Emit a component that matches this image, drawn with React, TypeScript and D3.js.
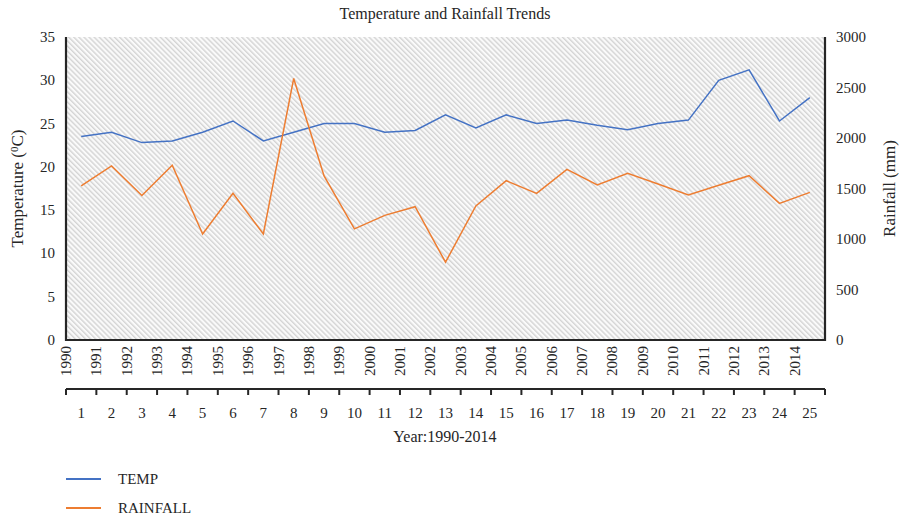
import React from "react";
import * as d3 from "d3";

// data
const periods = d3.range(1, 26).map(String);
const years = d3.range(1990, 2015).map(String);
const temp = [23.5, 24.0, 22.8, 23.0, 24.0, 25.3, 23.0, 24.0, 25.0, 25.0, 24.0, 24.2, 26.0, 24.5, 26.0, 25.0, 25.4, 24.8, 24.3, 25.0, 25.4, 30.0, 31.2, 25.3, 28.0];
const rainfall = [1525, 1723, 1430, 1730, 1050, 1452, 1050, 2590, 1624, 1100, 1234, 1320, 770, 1327, 1577, 1452, 1690, 1535, 1650, 1545, 1436, 1532, 1627, 1353, 1462];
const tempTicks = [0, 5, 10, 15, 20, 25, 30, 35];
const rainTicks = [0, 500, 1000, 1500, 2000, 2500, 3000];

const W = 899;
const H = 517;
const left = 66;
const right = 825;
const top = 37;
const bottom = 340;
const font = "'Liberation Serif', 'DejaVu Serif', serif";
const ink = "#262626";

export default function App() {
  const x = d3.scaleBand().domain(periods).range([left, right]);
  const yT = d3.scaleLinear().domain([0, 35]).range([bottom, top]);
  const yR = d3.scaleLinear().domain([0, 3000]).range([bottom, top]);

  const tempLine = d3.line<number>().x((d, i) => x(periods[i])! + x.bandwidth() / 2).y(d => yT(d));
  const rainLine = d3.line<number>().x((d, i) => x(periods[i])! + x.bandwidth() / 2).y(d => yR(d));

  const bounds = d3.range(0, 26).map(i => left + i * x.bandwidth());
  const outerY = 389;

  return (
    <svg width={W} height={H} style={{ position: "absolute", left: 0, top: 0, fontFamily: font }}>
      <defs>
        <pattern id="hatch" width="3.6" height="3.6" patternUnits="userSpaceOnUse" patternTransform="rotate(-45)">
          <rect width="3.6" height="3.6" fill="#fafafa" />
          <rect width="1.4" height="3.6" fill="#d4d4d4" />
        </pattern>
      </defs>

      <text x={445} y={19} textAnchor="middle" fontSize={16} fill={ink}>Temperature and Rainfall Trends</text>

      <rect x={left} y={top} width={right - left} height={bottom - top} fill="url(#hatch)" />

      {/* series */}
      <path d={tempLine(temp)!} fill="none" stroke="#4472C4" strokeWidth={1.5} />
      <path d={rainLine(rainfall)!} fill="none" stroke="#ED7D31" strokeWidth={1.5} />

      {/* frame */}
      <line x1={left} x2={left} y1={top} y2={bottom + 1} stroke={ink} strokeWidth={2.2} />
      <line x1={right} x2={right} y1={top} y2={bottom + 1} stroke={ink} strokeWidth={2.2} />
      <line x1={left - 1} x2={right + 1} y1={bottom} y2={bottom} stroke={ink} strokeWidth={2.2} />

      {/* left axis */}
      {tempTicks.map(t => (
        <text key={"t" + t} x={55} y={yT(t) + 5} textAnchor="end" fontSize={15} fill={ink}>{t}</text>
      ))}
      <text transform={`translate(23,${(top + bottom) / 2}) rotate(-90)`} textAnchor="middle" fontSize={17} fill={ink}>
        Temperature (<tspan dy={-5} fontSize={11}>0</tspan><tspan dy={5}>C)</tspan>
      </text>

      {/* right axis */}
      {rainTicks.map(t => (
        <text key={"r" + t} x={836} y={yR(t) + 5} textAnchor="start" fontSize={15} fill={ink}>{t}</text>
      ))}
      <text transform={`translate(895,${(top + bottom) / 2}) rotate(-90)`} textAnchor="middle" fontSize={17} fill={ink}>Rainfall (mm)</text>

      {/* year labels */}
      {years.map((yr, i) => (
        <text key={yr} transform={`translate(${bounds[i] + 5},${bottom + 6}) rotate(-90)`} textAnchor="end" fontSize={15} fill={ink}>{yr}</text>
      ))}

      {/* outer category axis */}
      <line x1={left} x2={right} y1={outerY} y2={outerY} stroke={ink} strokeWidth={2} />
      {bounds.map((b, i) => (
        <line key={"b" + i} x1={b} x2={b} y1={outerY} y2={outerY + 6} stroke={ink} strokeWidth={2} />
      ))}
      {periods.map(p => (
        <text key={"p" + p} x={x(p)! + x.bandwidth() / 2} y={418} textAnchor="middle" fontSize={15} fill={ink}>{p}</text>
      ))}
      <text x={445} y={442} textAnchor="middle" fontSize={16} fill={ink}>Year:1990-2014</text>

      {/* legend */}
      <line x1={66} x2={101} y1={479} y2={479} stroke="#4472C4" strokeWidth={2} />
      <text x={118} y={484} fontSize={15} fill={ink}>TEMP</text>
      <line x1={66} x2={101} y1={508} y2={508} stroke="#ED7D31" strokeWidth={2} />
      <text x={118} y={513} fontSize={15} fill={ink}>RAINFALL</text>
    </svg>
  );
}
